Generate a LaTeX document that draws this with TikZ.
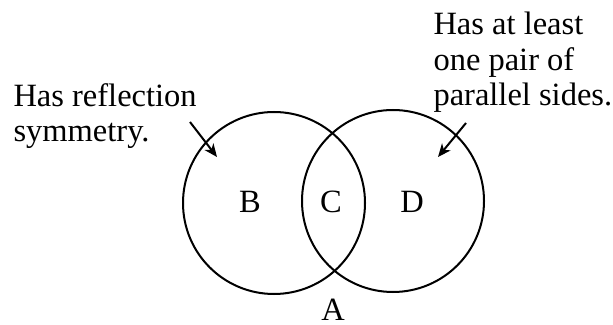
\documentclass[tikz,border=0pt]{standalone}
\usepackage{fontspec}
\setmainfont{Liberation Serif}
\usepackage{tikz}
\usetikzlibrary{arrows.meta,positioning}

\begin{document}
\begin{tikzpicture}[>={Stealth[length=5.2pt,width=4.4pt,inset=1.5pt]},x=0.4pt,y=-0.4pt,
  every node/.style={font=\fontsize{13}{14.2}\selectfont,inner sep=0pt},
  setcircle/.style={circle,draw,line width=0.8pt,minimum size=72.8pt}]
\useasboundingbox (0,0) rectangle (613,325);
\node[setcircle] (left) at (274,203) {};
\node[setcircle] (right) at (393,201) {};
\node[anchor=base] (B) at (250,213) {B};
\node[anchor=base] (C) at (331,213) {C};
\node[anchor=base] (D) at (412,213) {D};
\node[anchor=base] (A) at (333,321) {A};
% multi-line nodes: base is the last line
\node[anchor=base west,align=left] (refl) at (13,142) {Has reflection\\symmetry.};
\node[anchor=base west,align=left] (para) at (433,106) {Has at least\\one pair of\\parallel sides.};
\coordinate (reflstart) at (190,122);
\coordinate (refltip) at (217,157);
\coordinate (parastart) at (466,123);
\coordinate (paratip) at (438,157);
\draw[->,line width=0.8pt] (reflstart) -- (refltip);
\draw[->,line width=0.8pt] (parastart) -- (paratip);
\end{tikzpicture}
\end{document}
